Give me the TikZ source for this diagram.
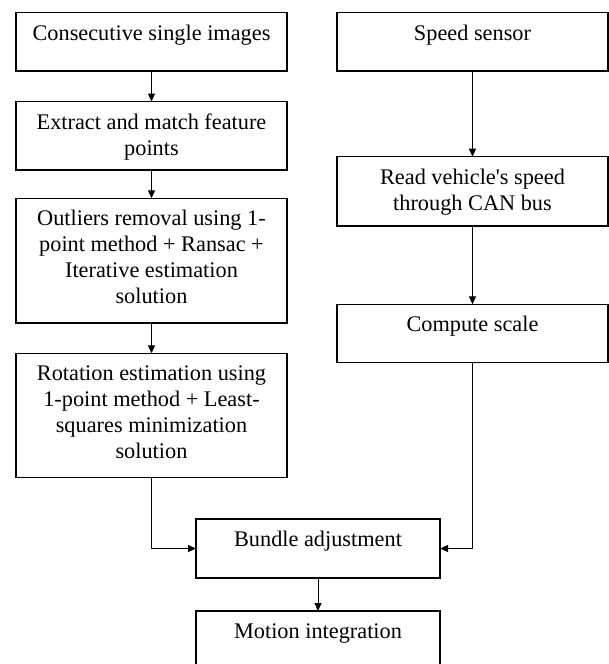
\documentclass[tikz,border=0pt]{standalone}
\usepackage{fontspec}
\setmainfont{Liberation Serif}
\usetikzlibrary{arrows.meta}
\newcommand{\boxtext}[3]{\begin{minipage}[t][#2][t]{#1}\centering\rule{0pt}{27.5pt}#3\end{minipage}}
\tikzset{
  box/.style={draw=black, line width=1.2pt, inner sep=0pt, outer sep=0pt, anchor=north west,
    font=\fontsize{22.3pt}{26pt}\selectfont},
  flow/.style={-{Triangle[length=8pt,width=7pt]}, line width=1pt, draw=black},
}
\begin{document}
\begin{tikzpicture}[x=1pt,y=-1pt]
\useasboundingbox (0,0) rectangle (609,664);
\clip (0,0) rectangle (609,664);
% left column
\node[box] (A) at (16,12.7) {\boxtext{271pt}{58.3pt}{Consecutive single images}};
\node[box] (B) at (16,101.5) {\boxtext{271pt}{68.5pt}{Extract and match feature\\points}};
\node[box] (C) at (16,198.3) {\boxtext{271pt}{124.7pt}{Outliers removal using 1-\\point method + Ransac +\\Iterative estimation\\solution}};
\node[box] (D) at (16,353.3) {\boxtext{271pt}{124pt}{Rotation estimation using\\1-point method + Least-\\squares minimization\\solution}};
% right column
\node[box] (S) at (337,12.7) {\boxtext{271pt}{58.3pt}{Speed sensor}};
\node[box] (R) at (337,156.7) {\boxtext{271pt}{69.3pt}{Read vehicle\textquotesingle s speed\\through CAN bus}};
\node[box] (K) at (337,304.3) {\boxtext{271pt}{58pt}{Compute scale}};
% bottom
\node[box] (BA) at (196,519) {\boxtext{244pt}{59pt}{Bundle adjustment}};
\node[box] (MI) at (196,611) {\boxtext{244pt}{58pt}{Motion integration}};
% connectors
\draw[flow] (A) -- (B);
\draw[flow] (B) -- (C);
\draw[flow] (C) -- (D);
\draw[flow] (S) -- (R);
\draw[flow] (R) -- (K);
\draw[flow] (D.south) |- (BA.west);
\draw[flow] (K.south) |- (BA.east);
\draw[flow] (BA) -- (MI);
\end{tikzpicture}
\end{document}
